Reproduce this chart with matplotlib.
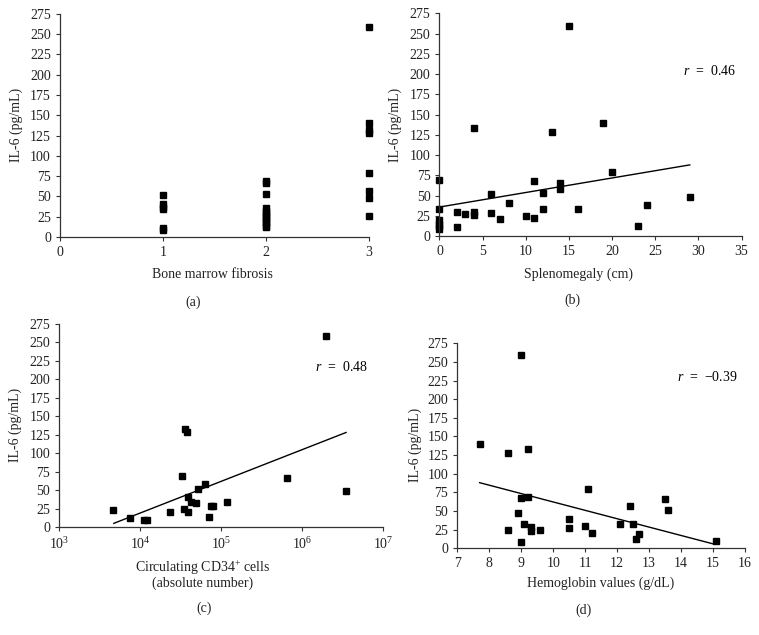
import matplotlib
matplotlib.use('Agg')
import matplotlib.pyplot as plt
from matplotlib.ticker import LogLocator, NullLocator

plt.rcParams['font.family'] = ['Liberation Serif', 'DejaVu Serif']
plt.rcParams['mathtext.fontset'] = 'custom'
plt.rcParams['mathtext.rm'] = 'Liberation Serif'
plt.rcParams['mathtext.it'] = 'Liberation Serif:italic'

# (a) bone marrow fibrosis grade vs IL-6
fib_x = [1, 1, 1, 1, 1, 1,
         2, 2, 2, 2, 2, 2, 2, 2, 2, 2, 2, 2, 2,
         3, 3, 3, 3, 3, 3, 3, 3]
fib_y = [52, 40, 37, 34, 11, 9,
         69, 66, 53, 35, 32, 30, 27, 25, 22, 20, 17, 14, 12,
         259, 140, 132, 128, 79, 57, 48, 26]

# (b) splenomegaly vs IL-6
spl_x = [0, 0, 0, 0, 0, 0, 2, 2, 3, 4, 4, 4, 6, 6, 7, 8, 10, 11, 11,
         12, 12, 13, 14, 14, 15, 16, 19, 20, 23, 24, 29]
spl_y = [69, 33, 20, 15, 12, 9, 30, 11, 27, 133, 30, 26, 52, 29, 21, 41, 25, 68, 23,
         53, 33, 128, 66, 58, 259, 34, 140, 79, 13, 39, 48]
spl_fit_x = [0, 29]
spl_fit_y = [36, 88]

# (c) circulating CD34+ cells vs IL-6
cd_x = [4640, 7570, 11200, 12100, 23200, 32800, 34400, 36000, 37800, 38500, 39200,
        42300, 48200, 52000, 62200, 70800, 73800, 79400, 119000, 647000, 1980000, 3420000]
cd_y = [23, 12, 9, 10, 20, 69, 25, 133, 128, 40, 21,
        34, 33, 52, 58, 13, 29, 28, 34, 66, 259, 49]
cd_fit_x = [4720, 3470000]
cd_fit_y = [5, 128]

# (d) hemoglobin vs IL-6
hb_x = [7.7, 8.6, 8.6, 8.9, 9.0, 9.0, 9.0, 9.1, 9.2, 9.2, 9.3, 9.3, 9.6,
        10.5, 10.5, 11.0, 11.1, 11.2, 12.1, 12.4, 12.5, 12.6, 12.7, 13.5, 13.6, 15.1]
hb_y = [140, 128, 25, 48, 259, 68, 9, 33, 133, 69, 28, 23, 24,
        39, 27, 30, 79, 21, 33, 57, 33, 13, 19, 66, 52, 10]
hb_fit_x = [7.7, 15.0]
hb_fit_y = [88, 6]

y_ticks = list(range(0, 276, 25))
spine_col = '#333333'
fs = 10


def style(ax):
    for s in ['top', 'right']:
        ax.spines[s].set_visible(False)
    for s in ['left', 'bottom']:
        ax.spines[s].set_color(spine_col)
        ax.spines[s].set_linewidth(0.9)
    ax.tick_params(direction='out', length=3, width=0.8, colors=spine_col,
                   labelcolor='#222222', labelsize=fs)
    ax.set_ylim(0, 275)
    ax.set_yticks(y_ticks)


fig = plt.figure(figsize=(7.59, 6.35), dpi=100)

ax1 = fig.add_axes([0.079, 0.627, 0.407, 0.351])
ax1.plot(fib_x, fib_y, 's', color='black', ms=5, clip_on=False)
ax1.set_xlim(0, 3)
ax1.set_xticks([0, 1, 2, 3])
style(ax1)

ax2 = fig.add_axes([0.579, 0.628, 0.398, 0.351])
ax2.plot(spl_x, spl_y, 's', color='black', ms=5, clip_on=False)
ax2.plot(spl_fit_x, spl_fit_y, color='black', lw=1)
ax2.set_xlim(0, 35)
ax2.set_xticks(range(0, 36, 5))
style(ax2)
ax2.text(28.2, 204, r'$r$  =  0.46', fontsize=fs, va='center')

ax3 = fig.add_axes([0.078, 0.170, 0.427, 0.320])
ax3.plot(cd_x, cd_y, 's', color='black', ms=5, clip_on=False)
ax3.plot(cd_fit_x, cd_fit_y, color='black', lw=1)
ax3.set_xscale('log')
ax3.set_xlim(1e3, 1e7)
ax3.xaxis.set_major_locator(LogLocator(base=10, numticks=10))
ax3.xaxis.set_minor_locator(NullLocator())
style(ax3)
ax3.text(1.43e6, 217, r'$r$  =  0.48', fontsize=fs, va='center')

ax4 = fig.add_axes([0.6025, 0.1365, 0.379, 0.323])
ax4.plot(hb_x, hb_y, 's', color='black', ms=5, clip_on=False)
ax4.plot(hb_fit_x, hb_fit_y, color='black', lw=1)
ax4.set_xlim(7, 16)
ax4.set_xticks(range(7, 17))
style(ax4)
ax4.text(13.86, 230, r'$r$  =  $-$0.39', fontsize=fs, va='center')


def ftext(x, y, s, **kw):
    fig.text(x / 759, 1 - y / 635, s, ha='center', va='center', fontsize=fs,
             color='#222222', **kw)


# y labels
ftext(16, 125, 'IL-6 (pg/mL)', rotation=90)
ftext(395, 125, 'IL-6 (pg/mL)', rotation=90)
ftext(15, 425, 'IL-6 (pg/mL)', rotation=90)
ftext(415, 445, 'IL-6 (pg/mL)', rotation=90)

# x labels
ftext(212, 274, 'Bone marrow fibrosis')
ftext(579, 274, 'Splenomegaly (cm)')
ftext(203, 568, r'Circulating CD34$^{+}$ cells')
ftext(203, 583, '(absolute number)')
ftext(601, 583, 'Hemoglobin values (g/dL)')

# panel captions
ftext(193, 302, '(a)')
ftext(572, 300, '(b)')
ftext(204, 608, '(c)')
ftext(583, 610, '(d)')

fig.savefig('out.png', dpi=100)
